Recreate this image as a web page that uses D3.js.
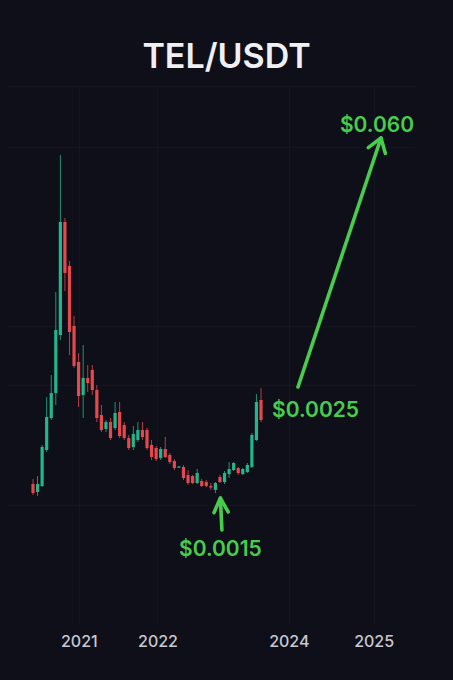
<!DOCTYPE html>
<html><head><meta charset="utf-8">
<script src="https://cdn.jsdelivr.net/npm/d3@7"></script>
<style>html,body{margin:0;background:#0e0f19;}svg{display:block;font-family:Inter,"Noto Sans",sans-serif;}</style>
</head><body><svg id="c" width="453" height="680"></svg>
<script>
const chartTitle = "TEL/USDT";
// candle prices (USDT), one entry per period
const openP  = [0.001534,0.001443,0.001511,0.001925,0.002293,0.002580,0.003247,0.004546,0.004040,0.003351,0.002937,0.002557,0.002753,0.002845,0.002615,0.002328,0.002167,0.002247,0.002178,0.002362,0.002213,0.002063,0.001960,0.002040,0.002155,0.002155,0.001983,0.001948,0.001833,0.001937,0.001868,0.001799,0.001724,0.001730,0.001638,0.001626,0.001546,0.001569,0.001557,0.001511,0.001466,0.001615,0.001557,0.001649,0.001695,0.001718,0.001649,0.001672,0.001730,0.002040,0.002500];
const highP  = [0.001592,0.001626,0.001983,0.002534,0.002787,0.003741,0.005316,0.004592,0.004098,0.003466,0.003040,0.003132,0.002902,0.002902,0.002672,0.002443,0.002270,0.002293,0.002477,0.002477,0.002247,0.002098,0.002201,0.002247,0.002247,0.002178,0.002040,0.001971,0.001960,0.002075,0.001891,0.001822,0.001741,0.001753,0.001695,0.001638,0.001707,0.001592,0.001580,0.001546,0.001557,0.001638,0.001684,0.001787,0.001787,0.001730,0.001718,0.001776,0.002121,0.002569,0.002638];
const lowP   = [0.001408,0.001397,0.001500,0.001902,0.002270,0.002443,0.003190,0.003753,0.003017,0.002868,0.002420,0.002293,0.002592,0.002557,0.002247,0.002132,0.002132,0.002040,0.002155,0.002063,0.002040,0.001925,0.001925,0.002017,0.002040,0.001925,0.001810,0.001799,0.001810,0.001833,0.001764,0.001695,0.001718,0.001580,0.001523,0.001534,0.001534,0.001500,0.001500,0.001466,0.001431,0.001546,0.001534,0.001603,0.001684,0.001638,0.001638,0.001661,0.001718,0.002029,0.002247];
const closeP = [0.001431,0.001534,0.001960,0.002305,0.002580,0.003305,0.004546,0.003960,0.003282,0.002891,0.002546,0.002753,0.002695,0.002615,0.002293,0.002155,0.002247,0.002063,0.002351,0.002086,0.002063,0.001948,0.002109,0.002155,0.002075,0.001948,0.001845,0.001822,0.001937,0.001845,0.001787,0.001718,0.001736,0.001603,0.001546,0.001546,0.001661,0.001511,0.001511,0.001494,0.001546,0.001557,0.001661,0.001707,0.001776,0.001661,0.001707,0.001753,0.002098,0.002477,0.002270];
// year ticks, positioned in candle periods
const yearLabels = ["2021","2022","2024","2025"];
const yearPeriods = [10.05, 27.3, 56.1, 74.7];
const gridPrices = [0.00541, 0.00335, 0.00267, 0.00129];
const lowLabel = "$0.0015", nowLabel = "$0.0025", targetLabel = "$0.060";
const nowPrice = 0.0025;

const W = 453, H = 680;
const L = 8, R = 415, T = 86, B = 625;
const GREEN = "#22b68a", RED = "#e5484d", ANN = "#47cc4d";

const svg = d3.select("#c");
svg.append("rect").attr("width", W).attr("height", H).attr("fill", "#0e0f19");

const x = d3.scaleLinear().domain([0, openP.length - 1]).range([33, 261]);
const y = d3.scaleLinear().domain([0, 0.006]).range([617.5, 95.5]);

// grid (very faint)
const grid = svg.append("g").attr("stroke", "#13151f").attr("stroke-width", 1);
grid.append("line").attr("x1", L).attr("x2", R).attr("y1", T + 0.5).attr("y2", T + 0.5);
grid.selectAll("line.h").data(gridPrices).join("line").attr("class", "h")
  .attr("x1", L).attr("x2", R).attr("y1", d => Math.round(y(d)) + 0.5).attr("y2", d => Math.round(y(d)) + 0.5);
grid.selectAll("line.v").data(yearPeriods).join("line").attr("class", "v")
  .attr("x1", d => Math.round(x(d)) + 0.5).attr("x2", d => Math.round(x(d)) + 0.5).attr("y1", T).attr("y2", B);

// title
svg.append("text").attr("x", W / 2).attr("y", 68).attr("text-anchor", "middle")
  .attr("fill", "#f0f0f3").attr("font-size", 34).attr("font-weight", 600).text(chartTitle);

// x axis
const ax = svg.append("g").attr("transform", "translate(0,630)")
  .call(d3.axisBottom(x).tickValues(yearPeriods).tickFormat((d, i) => yearLabels[i]).tickSize(0).tickPadding(6));
ax.select(".domain").remove();
ax.selectAll("text").attr("fill", "#c8c8d0").attr("font-size", 16).attr("font-weight", 500)
  .style("font-family", "Inter, 'Noto Sans', sans-serif");

// candles
const idx = d3.range(openP.length);
const cg = svg.append("g");
cg.selectAll("line").data(idx).join("line")
  .attr("x1", i => x(i)).attr("x2", i => x(i))
  .attr("y1", i => y(highP[i])).attr("y2", i => y(lowP[i]))
  .attr("stroke", i => closeP[i] >= openP[i] ? GREEN : RED).attr("stroke-width", 1).attr("opacity", 0.8);
cg.selectAll("rect").data(idx).join("rect")
  .attr("x", i => x(i) - 1.6).attr("width", 3.2)
  .attr("y", i => y(Math.max(openP[i], closeP[i])))
  .attr("height", i => Math.max(1.2, Math.abs(y(openP[i]) - y(closeP[i]))))
  .attr("fill", i => closeP[i] >= openP[i] ? GREEN : RED);

// annotations
function arrow(x1, y1, x2, y2, len, ang) {
  const a = Math.atan2(y1 - y2, x1 - x2);
  const g = svg.append("g").attr("stroke", ANN).attr("stroke-width", 3.6)
    .attr("stroke-linecap", "round").attr("stroke-linejoin", "round").attr("fill", "none");
  g.append("line").attr("x1", x1).attr("y1", y1).attr("x2", x2).attr("y2", y2);
  const p = [[x2 + len * Math.cos(a + ang), y2 + len * Math.sin(a + ang)], [x2, y2],
             [x2 + len * Math.cos(a - ang), y2 + len * Math.sin(a - ang)]];
  g.append("path").attr("d", d3.line()(p));
}
// lowest low after the peak
const peakIdx = d3.maxIndex(highP);
const lowIdx = peakIdx + d3.minIndex(lowP.slice(peakIdx));
const tipX = x(lowIdx) + 5, tipY = y(lowP[lowIdx]) + 5;
arrow(tipX + 1.5, tipY + 32, tipX, tipY, 16, 0.46);
svg.append("text").attr("x", tipX).attr("y", tipY + 58).attr("text-anchor", "middle")
  .attr("fill", ANN).attr("font-size", 21).attr("font-weight", 600).text(lowLabel);

const lastX = x(openP.length - 1);
svg.append("text").attr("x", lastX + 11).attr("y", y(nowPrice) + 17)
  .attr("fill", ANN).attr("font-size", 21).attr("font-weight", 600).text(nowLabel);
const sx = lastX + 37, sy = y(nowPrice) - 13;
arrow(sx, sy, sx + 83, sy - 249, 16, 0.6);
svg.append("text").attr("x", sx + 79).attr("y", sy - 255).attr("text-anchor", "middle")
  .attr("fill", ANN).attr("font-size", 21).attr("font-weight", 600).text(targetLabel);
</script></body></html>
